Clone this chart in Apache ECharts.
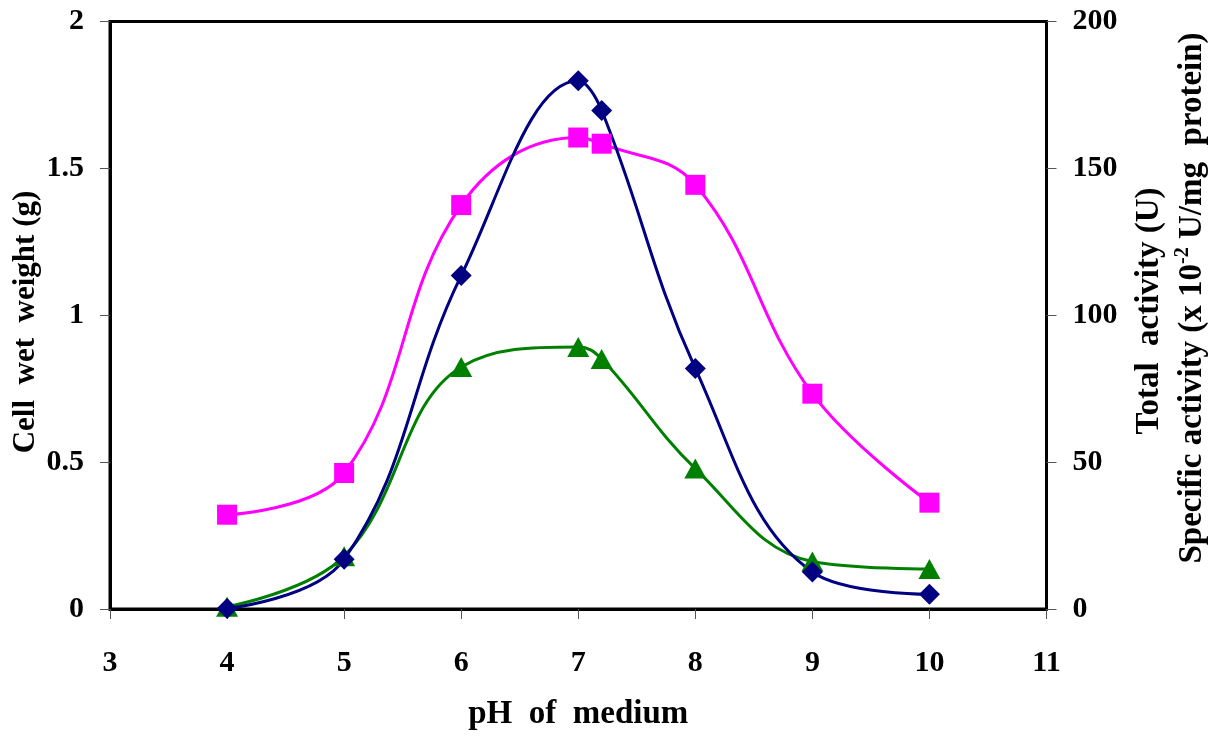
<!DOCTYPE html>
<html>
<head>
<meta charset="utf-8">
<script src="https://cdn.jsdelivr.net/npm/echarts@6/dist/echarts.min.js"></script>
<style>
html,body{margin:0;padding:0;background:#fff;}
#chart{width:1219px;height:736px;}
</style>
</head>
<body>
<div id="chart"></div>
<script>
// pH values of the medium (x)
const phValues = [4, 5, 6, 7, 7.2, 8, 9, 10];
// Green triangles, left axis (g)
const cellWetWeight = [0.008, 0.18, 0.824, 0.892, 0.851, 0.478, 0.162, 0.136];
// Navy diamonds, right axis
const totalActivity = [0.2, 16.9, 113.5, 179.8, 169.7, 81.9, 12.6, 5.0];
// Magenta squares, right axis
const specificActivity = [32.1, 46.3, 137.5, 160.5, 158.4, 144.4, 73.3, 36.2];

const xTicks = {min: 3, max: 11, interval: 1};
const leftTicks = {min: 0, max: 2, interval: 0.5};
const rightTicks = {min: 0, max: 200, interval: 50};

const FONT = 'Liberation Serif';
const pair = (xs, ys) => xs.map((x, i) => [x, ys[i]]);

const chart = echarts.init(document.getElementById('chart'));
const tickLabel = {fontFamily: FONT, fontWeight: 'bold', fontSize: 30, color: '#000'};

chart.setOption({
  animation: false,
  backgroundColor: '#fff',
  grid: {left: 110, right: 172.5, top: 21.5, bottom: 122, show: true, borderColor: '#000', borderWidth: 3},
  xAxis: {
    type: 'value', min: xTicks.min, max: xTicks.max, interval: xTicks.interval,
    name: 'pH  of  medium', nameLocation: 'middle', nameGap: 89,
    nameTextStyle: {fontFamily: FONT, fontWeight: 'bold', fontSize: 33, color: '#000'},
    axisLine: {show: true, onZero: false, lineStyle: {color: '#000', width: 3}},
    axisTick: {show: true, length: 10, lineStyle: {color: '#555', width: 1}},
    axisLabel: Object.assign({margin: 39}, tickLabel),
    splitLine: {show: false}
  },
  yAxis: [
    {
      type: 'value', position: 'left', min: leftTicks.min, max: leftTicks.max, interval: leftTicks.interval,
      axisLine: {show: true, lineStyle: {color: '#000', width: 3}},
      axisTick: {show: true, length: 10, lineStyle: {color: '#555', width: 1}},
      axisLabel: Object.assign({margin: 26}, tickLabel),
      splitLine: {show: false}
    },
    {
      type: 'value', position: 'right', min: rightTicks.min, max: rightTicks.max, interval: rightTicks.interval,
      axisLine: {show: true, lineStyle: {color: '#000', width: 3}},
      axisTick: {show: true, length: 10, lineStyle: {color: '#555', width: 1}},
      axisLabel: Object.assign({margin: 26}, tickLabel),
      splitLine: {show: false}
    }
  ],
  graphic: [
    {
      type: 'text', x: 26, y: 322, rotation: Math.PI / 2,
      style: {text: 'Cell  wet  weight (g)', fontFamily: FONT, fontWeight: 'bold', fontSize: 31,
              fill: '#000', align: 'center', verticalAlign: 'middle'}
    },
    {
      type: 'text', x: 1149, y: 311, rotation: Math.PI / 2,
      style: {text: 'Total  activity (U)', fontFamily: FONT, fontWeight: 'bold', fontSize: 33,
              fill: '#000', align: 'center', verticalAlign: 'middle'}
    },
    {
      type: 'text', x: 1191, y: 298, rotation: Math.PI / 2,
      style: {text: '{b|Specific activity (x 10}{sup|-2}{b| U/mg  protein)}', fill: '#000',
              align: 'center', verticalAlign: 'middle',
              rich: {
                b: {fontFamily: FONT, fontWeight: 'bold', fontSize: 33, lineHeight: 36, verticalAlign: 'bottom'},
                sup: {fontFamily: FONT, fontWeight: 'bold', fontSize: 20, lineHeight: 20, verticalAlign: 'top'}
              }}
    }
  ],
  series: [
    {
      name: 'Specific activity', type: 'line', yAxisIndex: 1, smooth: 0.4,
      data: pair(phValues, specificActivity),
      symbol: 'rect', symbolSize: 20,
      lineStyle: {color: '#FF00FF', width: 3},
      itemStyle: {color: '#FF00FF'}
    },
    {
      name: 'Cell wet weight', type: 'line', yAxisIndex: 0, smooth: 0.4,
      data: pair(phValues, cellWetWeight),
      symbol: 'triangle', symbolSize: [22, 20],
      lineStyle: {color: '#008000', width: 3},
      itemStyle: {color: '#008000'}
    },
    {
      name: 'Total activity', type: 'line', yAxisIndex: 1, smooth: 0.4,
      data: pair(phValues, totalActivity),
      symbol: 'diamond', symbolSize: 21,
      lineStyle: {color: '#000080', width: 3},
      itemStyle: {color: '#000080'}
    }
  ]
});
</script>
</body>
</html>
